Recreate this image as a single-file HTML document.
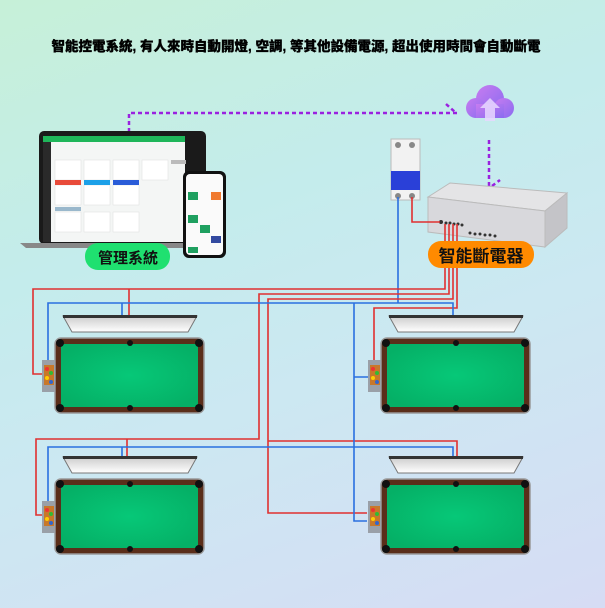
<!DOCTYPE html>
<html><head><meta charset="utf-8"><style>
html,body{margin:0;padding:0;width:605px;height:608px;overflow:hidden}
body{background:linear-gradient(160deg,#c6f0d8 0%,#c4ecec 35%,#cce8f2 60%,#d6dcf4 100%);font-family:"Liberation Sans","Noto Sans CJK TC",sans-serif}
</style></head><body>
<svg width="605" height="608" viewBox="0 0 605 608" xmlns="http://www.w3.org/2000/svg" style="position:absolute;left:0;top:0">
<defs>
<radialGradient id="felt" cx="50%" cy="50%" r="60%"><stop offset="0" stop-color="#06c878"/><stop offset="1" stop-color="#05b066"/></radialGradient>
<linearGradient id="cloud" x1="0" y1="0" x2="1" y2="1"><stop offset="0" stop-color="#c77cf0"/><stop offset="1" stop-color="#8a6cf0"/></linearGradient>
<linearGradient id="lamp" x1="0" y1="0" x2="0" y2="1"><stop offset="0" stop-color="#ccc"/><stop offset="1" stop-color="#fff"/></linearGradient>
<g id="table">
<rect x="0" y="0" width="149" height="75" rx="6" fill="#5a2e1a" stroke="#999" stroke-width="1.5"/>
<rect x="6" y="6" width="137" height="63" fill="url(#felt)"/>
<circle cx="5" cy="5" r="4" fill="#111"/><circle cx="144" cy="5" r="4" fill="#111"/>
<circle cx="5" cy="70" r="4" fill="#111"/><circle cx="144" cy="70" r="4" fill="#111"/>
<circle cx="75" cy="5" r="3" fill="#111"/><circle cx="75" cy="70" r="3" fill="#111"/>
<path d="M8 -22 L142 -22 L133 -6 L17 -6 Z" fill="url(#lamp)" stroke="#777"/>
<rect x="8" y="-23" width="134" height="3" fill="#333"/>
<rect x="-13" y="22" width="13" height="32" fill="#9aa0a8"/>
<rect x="-11" y="27" width="10" height="20" fill="#c8782a"/>
<circle cx="-8" cy="31" r="2" fill="#e33"/><circle cx="-4" cy="35" r="2" fill="#3b3"/><circle cx="-8" cy="40" r="2" fill="#fc0"/><circle cx="-4" cy="44" r="2" fill="#36c"/>
</g>
</defs>
<text x="296" y="51" text-anchor="middle" font-size="13.5" font-weight="900" fill="#000" stroke="#000" stroke-width="0.3" font-family="Liberation Sans,Noto Sans CJK TC,sans-serif">智能控電系統, 有人來時自動開燈, 空調, 等其他設備電源, 超出使用時間會自動斷電</text>

<g stroke="#9a22e0" stroke-width="2.5" stroke-dasharray="4,3" fill="none">
<path d="M129 132 V113 H457"/><path d="M446 104 L455 112"/>
<path d="M489 140 V192"/><path d="M492 186 L500 180"/>
</g>
<g>
<circle cx="490" cy="99" r="14" fill="url(#cloud)"/><circle cx="476" cy="108" r="10" fill="url(#cloud)"/><circle cx="504" cy="108" r="10" fill="url(#cloud)"/>
<rect x="476" y="104" width="28" height="14" fill="url(#cloud)"/>
<path d="M490 98 L480 108 H485 V121 H495 V108 H500 Z" fill="#e8d8ff" opacity="0.85"/>
</g>

<rect x="39" y="131" width="167" height="113" rx="5" fill="#1a1a1a"/>
<rect x="43" y="136" width="142" height="106" fill="#f4f6f5"/>
<rect x="43" y="136" width="142" height="6" fill="#1fb65a"/>
<rect x="43" y="142" width="8" height="100" fill="#2a2a2a"/>
<g fill="#fff" stroke="#ddd" stroke-width="0.5">
<rect x="55" y="160" width="26" height="20"/><rect x="84" y="160" width="26" height="20"/><rect x="113" y="160" width="26" height="20"/><rect x="142" y="160" width="26" height="20"/>
<rect x="55" y="185" width="26" height="20"/><rect x="84" y="185" width="26" height="20"/><rect x="113" y="185" width="26" height="20"/>
<rect x="55" y="212" width="26" height="20"/><rect x="84" y="212" width="26" height="20"/><rect x="113" y="212" width="26" height="20"/>
</g>
<rect x="55" y="180" width="26" height="5" fill="#e84b3a"/><rect x="84" y="180" width="26" height="5" fill="#1ca0e8"/><rect x="113" y="180" width="26" height="5" fill="#2a5cd8"/>
<rect x="55" y="207" width="26" height="4" fill="#9ab8cc"/><rect x="171" y="160" width="15" height="4" fill="#bbb"/>
<path d="M20 243 H225 L220 248 H26 Z" fill="#888"/>
<rect x="183" y="171" width="43" height="87" rx="6" fill="#111"/>
<rect x="186" y="174" width="37" height="81" rx="4" fill="#fafafa"/>
<g fill="#1fa060"><rect x="188" y="192" width="10" height="8"/><rect x="188" y="215" width="10" height="8"/><rect x="200" y="225" width="10" height="8"/><rect x="188" y="247" width="10" height="6"/></g>
<rect x="211" y="192" width="10" height="8" fill="#f07a30"/><rect x="211" y="236" width="10" height="7" fill="#334aa0"/>
<rect x="85" y="243" width="85" height="27" rx="13" fill="#1fe070"/>
<text x="128" y="263" text-anchor="middle" font-size="15" font-weight="bold" fill="#111">管理系統</text>

<rect x="391" y="139" width="29" height="61" fill="#f2f2f2" stroke="#bbb"/>
<rect x="391" y="171" width="29" height="19" fill="#2a40d8"/>
<circle cx="398" cy="145" r="3" fill="#888"/><circle cx="412" cy="145" r="3" fill="#888"/>
<circle cx="398" cy="196" r="3" fill="#888"/><circle cx="412" cy="196" r="3" fill="#888"/>
<path d="M428 197 L450 183 L567 193 L545 211 Z" fill="#e4e4e6" stroke="#bbb"/>
<path d="M428 197 L545 211 L545 247 L428 232 Z" fill="#d8d8dc" stroke="#bbb"/>
<path d="M545 211 L567 193 L567 228 L545 247 Z" fill="#c4c4c8" stroke="#bbb"/>
<g fill="#333"><circle cx="441" cy="222" r="2"/><circle cx="446" cy="223" r="1.5"/><circle cx="450" cy="223" r="1.5"/><circle cx="454" cy="224" r="1.5"/><circle cx="458" cy="224" r="1.5"/><circle cx="462" cy="225" r="1.5"/><circle cx="470" cy="233" r="1.5"/><circle cx="475" cy="234" r="1.5"/><circle cx="480" cy="234" r="1.5"/><circle cx="485" cy="235" r="1.5"/><circle cx="490" cy="235" r="1.5"/><circle cx="495" cy="236" r="1.5"/></g>

<g fill="none" stroke-width="1.6">
<path stroke="#e03030" d="M412 197 V222 H440"/>
<path stroke="#2a70e0" d="M398 197 V303"/>
<path stroke="#e03030" d="M445 224 V289 H33 V374 H42 M129 289 V316"/>
<path stroke="#e03030" d="M449 224 V294 H259 V439 H36 V515 H42 M127 439 V457"/>
<path stroke="#e03030" d="M453 224 V299 H268 V513 H367 M268 441 H457 V457"/>
<path stroke="#e03030" d="M457 224 V308 H374 V362 H381"/>
<path stroke="#2a70e0" d="M48 362 V303 H453 V316 M122 303 V316 M354 303 V521 H367 M354 377 H368"/>
<path stroke="#2a70e0" d="M48 501 V447 H453 V457 M122 447 V457"/>
</g>
<rect x="428" y="241" width="106" height="27" rx="13" fill="#ff8a00"/>
<text x="481" y="262" text-anchor="middle" font-size="17" font-weight="bold" fill="#111">智能斷電器</text>

<use href="#table" x="55" y="338"/>
<use href="#table" x="381" y="338"/>
<use href="#table" x="55" y="479"/>
<use href="#table" x="381" y="479"/>
</svg>
</body></html>
